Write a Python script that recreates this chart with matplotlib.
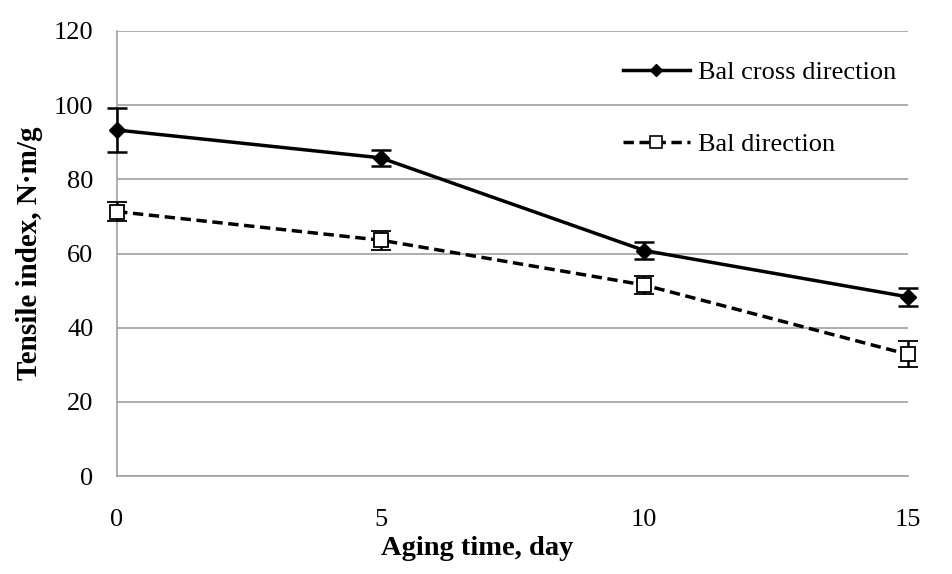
import matplotlib
matplotlib.use("Agg")
import matplotlib.pyplot as plt
from matplotlib.lines import Line2D

days = [0, 5, 10, 15]
cross_vals = [93.3, 85.8, 60.8, 48.3]
cross_err = [6.0, 2.2, 2.2, 2.5]
dir_vals = [71.3, 63.6, 51.5, 32.8]
dir_err = [2.5, 2.6, 2.4, 3.5]
series_names = ["Bal cross direction", "Bal direction"]

plt.rcParams['font.family'] = ['Liberation Serif', 'DejaVu Serif']

fig = plt.figure(figsize=(9.53, 5.74), dpi=100)
ax = fig.add_axes([0.1228, 0.1707, 0.83, 0.7753])

dash = (0, (3, 1.6))
c1 = ax.errorbar(days, cross_vals, yerr=cross_err, color='black', lw=2.5,
                 marker='D', ms=8, mfc='black', mec='black',
                 ecolor='black', elinewidth=1.8, capsize=7, capthick=1.8,
                 zorder=3)
c2 = ax.errorbar(days, dir_vals, yerr=dir_err, color='black', lw=2.5, ls=dash,
                 marker='s', ms=10, mfc='white', mec='black', mew=1.3,
                 ecolor='black', elinewidth=1.8, capsize=7, capthick=1.8,
                 zorder=3)
for cont in (c1, c2):
    for art in cont.get_children():
        art.set_clip_on(False)

ax.set_xlim(0, 15)
ax.set_ylim(0, 120)
ax.set_xticks([0, 5, 10, 15])
ax.set_yticks(range(0, 121, 20))
ax.yaxis.grid(True, color='#a0a0a0', lw=1.2)
ax.set_axisbelow(True)
for s in ['top', 'right']:
    ax.spines[s].set_visible(False)
for s in ['left', 'bottom']:
    ax.spines[s].set_color('#a0a0a0')
    ax.spines[s].set_linewidth(1.2)
ax.tick_params(axis='both', labelsize=19, length=0)
ax.tick_params(axis='y', pad=17)
ax.tick_params(axis='x', pad=24)
ax.set_xlabel("Aging time, day", fontsize=20.5, fontweight='bold')
ax.xaxis.set_label_coords(0.455, -0.135)
ax.set_ylabel("Tensile index, N·m/g", fontsize=21, fontweight='bold')
ax.yaxis.set_label_coords(-0.094, 0.5)

h1 = Line2D([], [], color='black', lw=2.5, marker='D', ms=6, mfc='black', mec='black')
h2 = Line2D([], [], color='black', lw=2.5, ls=dash, marker='s', ms=9, mfc='white', mec='black', mew=1.2)
leg = ax.legend([h1, h2], series_names, loc='upper left', bbox_to_anchor=(0.616, 0.975),
                frameon=False, fontsize=19, labelspacing=1.85, handlelength=2.55,
                handletextpad=0.3, borderaxespad=0.3)

fig.savefig("out.png", dpi=100)
